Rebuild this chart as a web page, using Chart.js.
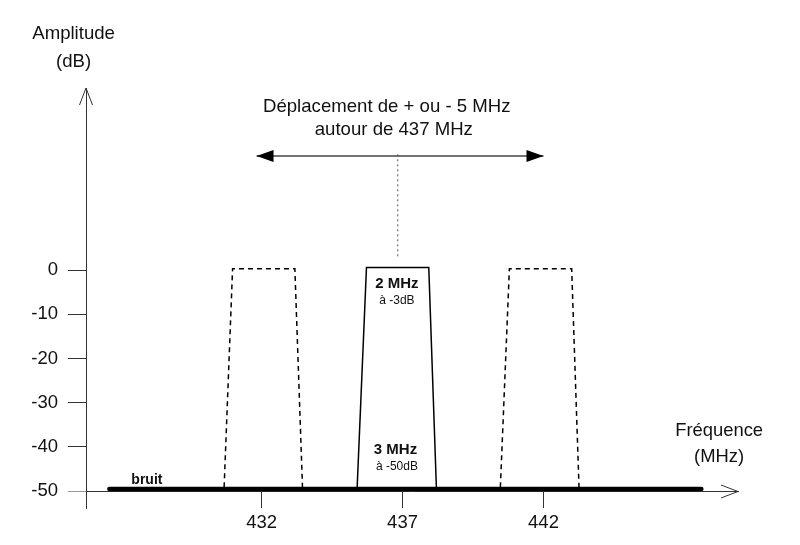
<!DOCTYPE html>
<html>
<head>
<meta charset="utf-8">
<script src="https://cdn.jsdelivr.net/npm/chart.js@4"></script>
<style>
html, body { margin: 0; padding: 0; background: #fff; }
#wrap { width: 800px; height: 545px; }
</style>
</head>
<body>
<div id="wrap"><canvas id="spectre"></canvas></div>
<script>
// frequencies in MHz, amplitudes in dB
const xTicks = [432, 437, 442];
const yTicks = [0, -10, -20, -30, -40, -50];

const bruitX = [426.6, 447.6];
const bruitY = [-49.5, -49.5];

const canalX = [435.39, 435.72, 437.93, 438.2];
const canalY = [-49.1, 0.6, 0.6, -49.1];

const gaucheX = [430.67, 430.97, 433.18, 433.45];
const gaucheY = [-49.1, 0.3, 0.3, -49.1];

const droiteX = [440.47, 440.79, 443.0, 443.26];
const droiteY = [-49.1, 0.3, 0.3, -49.1];

const pointilleX = [436.83, 436.83];
const pointilleY = [26.2, 2.7];

const flecheX = [431.82, 442.0];
const flecheY = [25.8, 25.8];

function pts(xs, ys) {
  return xs.map((x, i) => ({ x: x, y: ys[i] }));
}

const police = 'Arial, "Liberation Sans", sans-serif';

// texts: [text, x (MHz), y (dB), font]
const textes = [
  ['Amplitude', 425.33, 53.4, '18.6px ' + police],
  ['(dB)', 425.33, 47.1, '18.6px ' + police],
  ['Déplacement de + ou - 5 MHz', 436.44, 36.9, '18.6px ' + police],
  ['autour de 437 MHz', 436.69, 31.7, '18.6px ' + police],
  ['2 MHz', 436.8, -3.0, 'bold 15px ' + police],
  ['à -3dB', 436.8, -6.9, '12px ' + police],
  ['3 MHz', 436.75, -40.7, 'bold 15px ' + police],
  ['à -50dB', 436.8, -44.5, '12px ' + police],
  ['bruit', 427.93, -47.4, 'bold 14px ' + police],
  ['Fréquence', 448.23, -36.4, '18.4px ' + police],
  ['(MHz)', 448.23, -42.3, '18.4px ' + police]
];

const dessin = {
  id: 'dessin',
  afterDraw(chart) {
    const c = chart.ctx;
    const sx = chart.scales.x, sy = chart.scales.y;
    const a = chart.chartArea;

    // open arrows at the end of the axes
    c.save();
    c.strokeStyle = '#333';
    c.lineWidth = 1;
    c.beginPath();
    c.moveTo(a.left - 6.5, a.top + 17);
    c.lineTo(a.left, a.top);
    c.lineTo(a.left + 6.5, a.top + 17);
    const yb = Math.round(sy.getPixelForValue(-50)) + 0.5;
    c.moveTo(a.right - 17, yb - 6.5);
    c.lineTo(a.right, yb);
    c.lineTo(a.right - 17, yb + 6.5);
    c.stroke();

    // filled heads of the double arrow
    const meta = chart.getDatasetMeta(5);
    const p0 = meta.data[0], p1 = meta.data[1];
    c.fillStyle = '#000';
    c.beginPath();
    c.moveTo(p0.x, p0.y);
    c.lineTo(p0.x + 17, p0.y - 6);
    c.lineTo(p0.x + 17, p0.y + 6);
    c.closePath();
    c.moveTo(p1.x, p1.y);
    c.lineTo(p1.x - 17, p1.y - 6);
    c.lineTo(p1.x - 17, p1.y + 6);
    c.closePath();
    c.fill();

    // labels
    c.fillStyle = '#111';
    c.textAlign = 'center';
    c.textBaseline = 'middle';
    textes.forEach(t => {
      c.font = t[3];
      c.fillText(t[0], sx.getPixelForValue(t[1]), sy.getPixelForValue(t[2]));
    });
    c.restore();
  }
};

const ligne = {
  showLine: true,
  pointRadius: 0,
  borderColor: '#000',
  fill: false,
  tension: 0
};

new Chart(document.getElementById('spectre'), {
  type: 'scatter',
  data: {
    datasets: [
      Object.assign({}, ligne, { label: 'bruit', data: pts(bruitX, bruitY), borderWidth: 4.5, borderCapStyle: 'round' }),
      Object.assign({}, ligne, { label: 'canal', data: pts(canalX, canalY), borderWidth: 1.5 }),
      Object.assign({}, ligne, { label: '432', data: pts(gaucheX, gaucheY), borderWidth: 1.5, borderDash: [5, 4] }),
      Object.assign({}, ligne, { label: '442', data: pts(droiteX, droiteY), borderWidth: 1.5, borderDash: [5, 4] }),
      Object.assign({}, ligne, { label: 'axe', data: pts(pointilleX, pointilleY), borderWidth: 1, borderColor: '#555', borderDash: [2, 3] }),
      Object.assign({}, ligne, { label: 'deplacement', data: pts(flecheX, flecheY), borderWidth: 1.5, borderColor: '#444' })
    ]
  },
  options: {
    responsive: true,
    maintainAspectRatio: false,
    animation: false,
    layout: { padding: { top: 88, right: 62, bottom: 37, left: 0 } },
    plugins: {
      legend: { display: false },
      tooltip: { enabled: false }
    },
    scales: {
      x: {
        type: 'linear',
        position: { y: -50 },
        min: 425.77,
        max: 448.9,
        afterBuildTicks: s => { s.ticks = xTicks.map(v => ({ value: v })); },
        grid: { drawOnChartArea: false, drawTicks: true, tickLength: 16, color: '#333' },
        border: { display: true, color: '#333', width: 1 },
        ticks: { color: '#111', font: { family: police, size: 18.5 }, padding: 5 }
      },
      y: {
        type: 'linear',
        position: 'left',
        min: -53.8,
        max: 41.2,
        afterFit: s => { s.width = 86; },
        afterBuildTicks: s => { s.ticks = yTicks.map(v => ({ value: v })); },
        grid: {
          drawOnChartArea: false, drawTicks: true, tickLength: 18,
          color: ctx => (ctx.tick && ctx.tick.value === -50 ? '#999' : '#333')
        },
        border: { display: true, color: '#333', width: 1 },
        ticks: { color: '#111', font: { family: police, size: 18.5 }, padding: 10 }
      }
    }
  },
  plugins: [dessin]
});
</script>
</body>
</html>
